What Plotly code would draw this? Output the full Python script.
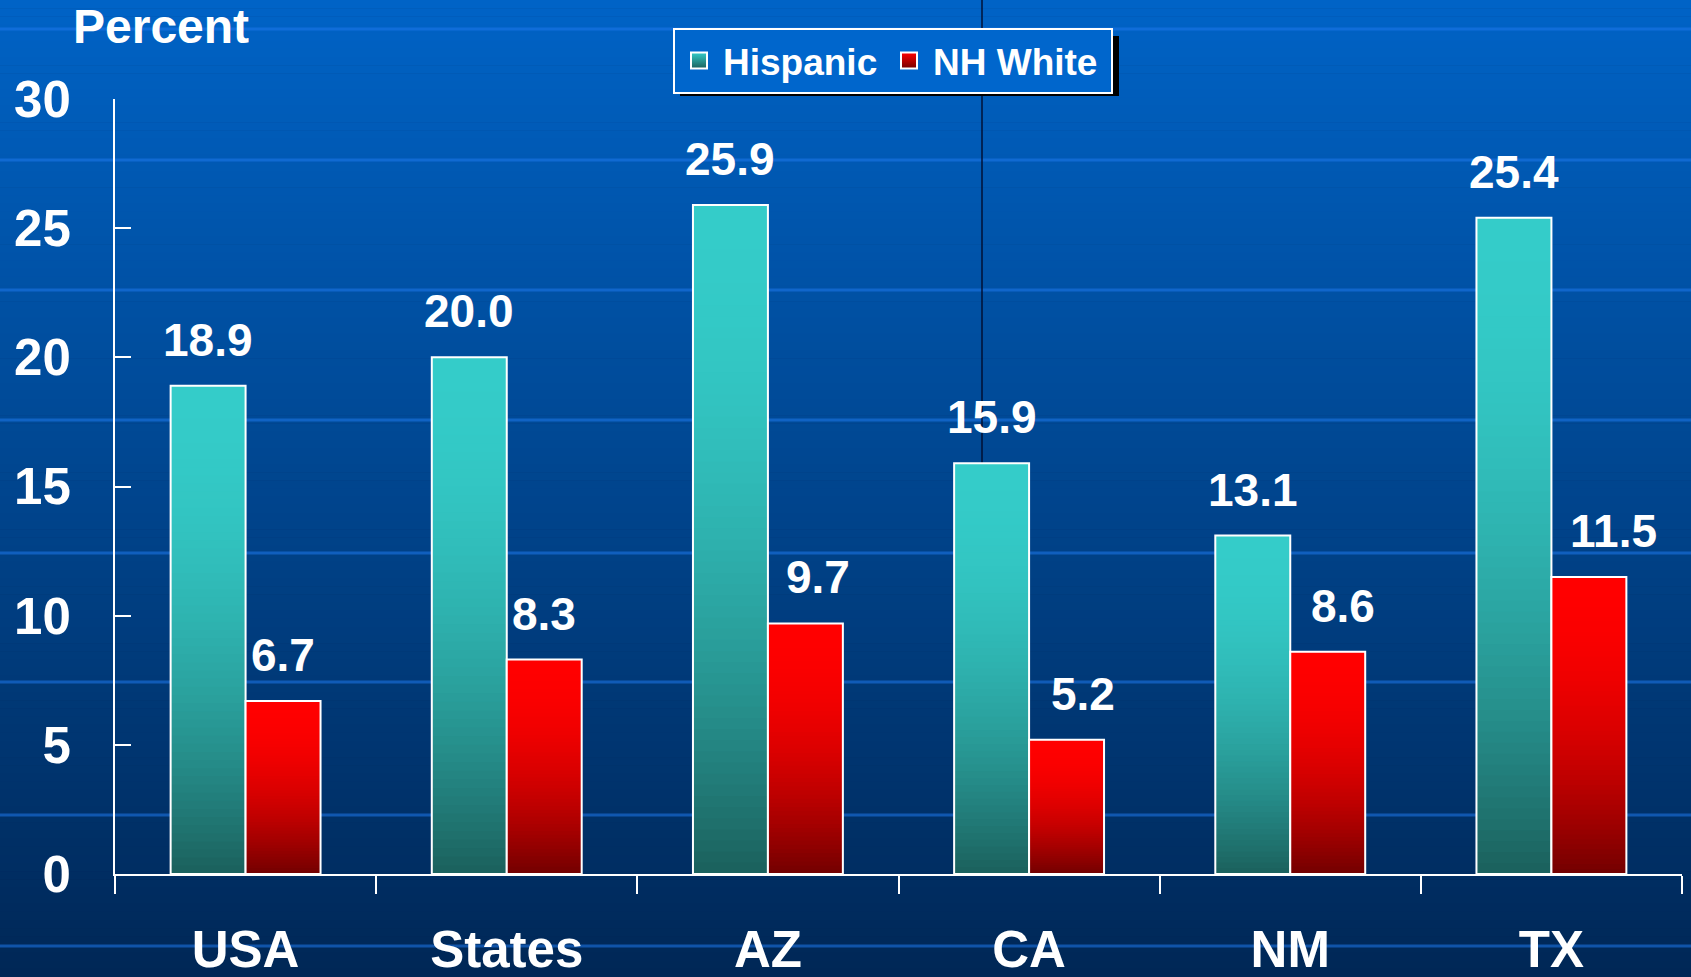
import plotly.graph_objects as go

# ---------------- data ----------------
categories = ["USA", "States", "AZ", "CA", "NM", "TX"]
hispanic = [18.9, 20.0, 25.9, 15.9, 13.1, 25.4]
nh_white = [6.7, 8.3, 9.7, 5.2, 8.6, 11.5]
series_names = ["Hispanic", "NH White"]
y_ticks = [0, 5, 10, 15, 20, 25, 30]

# label nudges (pixels, layout only) as placed in the original slide
nh_white_label_nudge = [0, 0, 13, 16, 15, 25]

# ---------------- geometry helpers ----------------
W, H = 1691, 977
ML, MR, MT, MB = 115, 9, 99, 103
PW, PH = W - ML - MR, H - MT - MB


def px_x(x):
    return (x - ML) / PW


def px_y(y):
    return (H - MB - y) / PH


FONT = "Liberation Sans, Arial, sans-serif"
BAR_W = 0.287

teal_top, teal_bot = (0x34, 0xCC, 0xC9), (0x1B, 0x60, 0x5C)
red_top, red_bot = (0xFF, 0x00, 0x00), (0x72, 0x00, 0x00)


def mix(c_bot, c_top, h):
    f = 1 - (1 - h) ** 2
    return "rgb(%d,%d,%d)" % tuple(round(b + (t - b) * f) for b, t in zip(c_bot, c_top))


fig = go.Figure()

# gradient-filled bars built from stacked bar segments
N = 60
for vals, off, ctop, cbot in [(hispanic, -BAR_W, teal_top, teal_bot),
                              (nh_white, 0.0, red_top, red_bot)]:
    for k in range(N):
        fig.add_trace(go.Bar(
            x=categories,
            y=[v * (1 - k / N) for v in vals],
            base=[v * k / N for v in vals],
            offset=off, width=BAR_W,
            marker=dict(color=mix(cbot, ctop, (k + 0.5) / N), line=dict(width=0)),
            showlegend=False, hoverinfo="skip",
        ))
    # white outline
    fig.add_trace(go.Bar(
        x=categories, y=vals, offset=off, width=BAR_W,
        marker=dict(color="rgba(0,0,0,0)", line=dict(color="white", width=2)),
        showlegend=False, hoverinfo="skip",
    ))

# legend entries
for name, ctop, cbot, lw in [(series_names[0], teal_top, teal_bot, 157),
                             (series_names[1], red_top, red_bot, 173)]:
    fig.add_trace(go.Scatter(
        x=[None], y=[None], mode="markers", name=name, legendwidth=lw,
        marker=dict(symbol="square", size=16, color="rgb(%d,%d,%d)" % ctop,
                    gradient=dict(type="vertical", color="rgb(%d,%d,%d)" % cbot),
                    line=dict(color="white", width=2)),
    ))

annotations = []
# value labels
for vals, dx, nudges in [(hispanic, -BAR_W / 2, [0] * len(hispanic)),
                         (nh_white, BAR_W / 2, nh_white_label_nudge)]:
    for i, v in enumerate(vals):
        annotations.append(dict(
            x=i + dx, y=v, xref="x", yref="y", text="%.1f" % v, showarrow=False,
            yanchor="bottom", yshift=18, xshift=nudges[i],
            font=dict(family=FONT, size=46, color="white", weight="bold"),
        ))
annotations.append(dict(
    x=px_x(161), y=px_y(27), xref="paper", yref="paper", text="Percent", showarrow=False,
    xanchor="center", yanchor="middle",
    font=dict(family=FONT, size=48, color="white", weight="bold"),
))

# background gradient + decorative lines
shapes = []
bg_top, bg_bot = (0x00, 0x63, 0xC6), (0x00, 0x27, 0x56)
NB = 120
for j in range(NB):
    c = tuple(round(a + (b - a) * (j + 0.5) / NB) for a, b in zip(bg_top, bg_bot))
    shapes.append(dict(type="rect", xref="paper", yref="paper", layer="below",
                       x0=px_x(0), x1=px_x(W), y0=px_y(H * (j + 1) / NB + 0.5), y1=px_y(H * j / NB),
                       fillcolor="rgb(%d,%d,%d)" % c, line=dict(width=0)))
for yy in [29, 160, 290, 420, 553, 682, 815, 946]:
    shapes.append(dict(type="line", xref="paper", yref="paper", layer="below",
                       x0=px_x(0), x1=px_x(W), y0=px_y(yy), y1=px_y(yy),
                       line=dict(color="rgba(30,120,235,0.55)", width=3)))
shapes.append(dict(type="line", xref="paper", yref="paper", layer="below",
                   x0=px_x(982), x1=px_x(982), y0=px_y(0), y1=px_y(874),
                   line=dict(color="rgba(0,10,40,0.9)", width=1.5)))
# legend shadow
shapes.append(dict(type="rect", xref="paper", yref="paper", layer="below",
                   x0=px_x(680), x1=px_x(1119), y0=px_y(96), y1=px_y(36),
                   fillcolor="black", line=dict(width=0)))

fig.update_layout(
    width=W, height=H,
    margin=dict(l=ML, r=MR, t=MT, b=MB, autoexpand=False),
    paper_bgcolor="#002756", plot_bgcolor="rgba(0,0,0,0)",
    barmode="overlay",
    font=dict(family=FONT, color="white"),
    shapes=shapes, annotations=annotations,
    showlegend=True,
    legend=dict(orientation="h", x=px_x(673), y=px_y(28), xanchor="left", yanchor="top",
                bgcolor="#0066CC", bordercolor="white", borderwidth=2, itemwidth=38,
                font=dict(family=FONT, size=37, color="white", weight="bold"),
                itemclick=False, itemdoubleclick=False),
    xaxis=dict(type="category", categoryarray=categories, range=[-0.5, 5.5],
               showline=True, linecolor="white", linewidth=2,
               ticks="outside", ticklen=18, tickwidth=2, tickcolor="white",
               tickson="boundaries", showgrid=False, zeroline=False, automargin=False,
               tickfont=dict(family=FONT, size=51, color="white", weight="bold"),
               ticklabelstandoff=30),
    yaxis=dict(range=[0, 30], tickvals=y_ticks, ticktext=[str(v) for v in y_ticks],
               showline=True, linecolor="white", linewidth=2,
               ticks="inside", ticklen=16, tickwidth=2, tickcolor="white",
               showgrid=False, zeroline=False, automargin=False,
               tickfont=dict(family=FONT, size=51, color="white", weight="bold"),
               ticklabelstandoff=32),
)

fig.write_html("out.html", config={"displayModeBar": False},
               post_script="document.body.style.margin='0';")
